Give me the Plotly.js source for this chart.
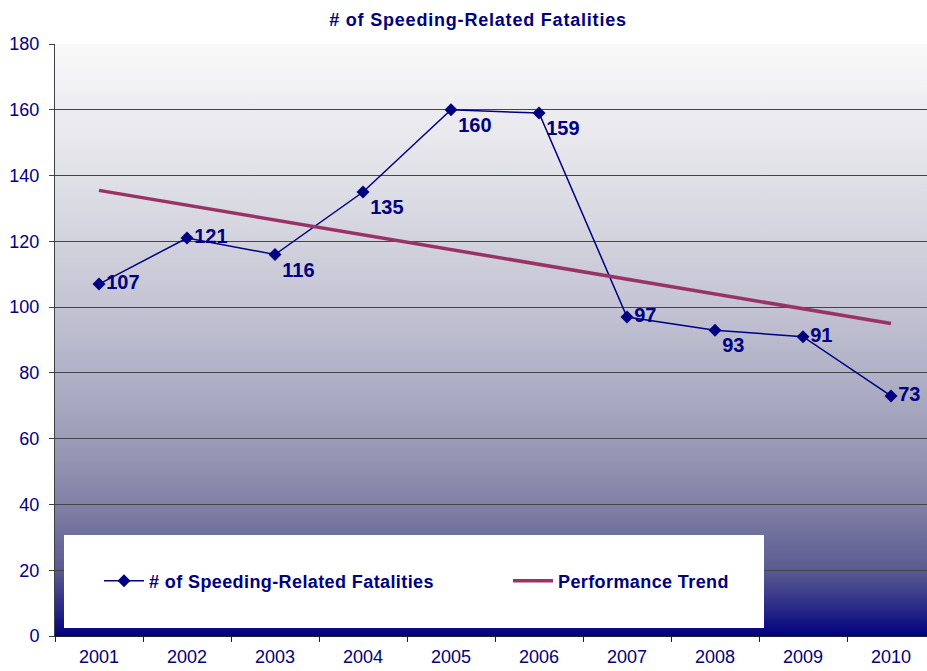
<!DOCTYPE html>
<html>
<head>
<meta charset="utf-8">
<script src="https://cdn.plot.ly/plotly-3.0.1.min.js"></script>
<style>
html, body { margin: 0; padding: 0; overflow: hidden; background: #ffffff; }
#chart { width: 935px; height: 671px; }
.gtitle { letter-spacing: 0.8px; }
.legendtext { letter-spacing: 0.4px; }
</style>
</head>
<body>
<div id="chart"></div>
<script>
// ---- data ----
const years = ["2001","2002","2003","2004","2005","2006","2007","2008","2009","2010"];
const fatalities = [107, 121, 116, 135, 160, 159, 97, 93, 91, 73];
const trendYears = ["2001", "2010"];
const trendValues = [135.5, 95.0];
const yTicks = [0, 20, 40, 60, 80, 100, 120, 140, 160, 180];
const labelPositions = ["middle right","middle right","bottom right","bottom right","bottom right",
                        "bottom right","middle right","bottom right","middle right","middle right"];

const navy = "#000080";
const font = "Liberation Sans, Arial, sans-serif";

// gradient background for plot area
const svg = "<svg xmlns='http://www.w3.org/2000/svg' width='100' height='100' preserveAspectRatio='none'>" +
  "<defs><linearGradient id='g' x1='0' y1='0' x2='0' y2='1'>" +
  "<stop offset='0' stop-color='#fafafa'/>" +
  "<stop offset='0.11' stop-color='#ededf1'/>" +
  "<stop offset='0.22' stop-color='#e1e1e8'/>" +
  "<stop offset='0.33' stop-color='#d3d3de'/>" +
  "<stop offset='0.44' stop-color='#c4c4d4'/>" +
  "<stop offset='0.55' stop-color='#b2b2c8'/>" +
  "<stop offset='0.67' stop-color='#9c9cb8'/>" +
  "<stop offset='0.78' stop-color='#8080a6'/>" +
  "<stop offset='0.89' stop-color='#5a5a90'/>" +
  "<stop offset='0.95' stop-color='#2c2c88'/>" +
  "<stop offset='1' stop-color='#000080'/>" +
  "</linearGradient></defs><rect width='100' height='100' fill='url(#g)'/></svg>";
const bgUri = "data:image/svg+xml;charset=utf-8," + encodeURIComponent(svg);

const traces = [
  {
    type: "scatter",
    mode: "lines+markers+text",
    name: "# of Speeding-Related Fatalities",
    x: years,
    y: fatalities,
    text: fatalities.map(String),
    textposition: labelPositions,
    textfont: { family: font, size: 20, color: navy, weight: "bold" },
    line: { color: navy, width: 1.5 },
    marker: { symbol: "diamond", size: 10, color: navy },
    cliponaxis: false,
    hoverinfo: "x+y"
  },
  {
    type: "scatter",
    mode: "lines",
    name: "Performance Trend",
    x: trendYears,
    y: trendValues,
    line: { color: "#993366", width: 3.5 },
    hoverinfo: "skip"
  }
];

const layout = {
  width: 935,
  height: 671,
  margin: { l: 55, r: 0, t: 44, b: 35 },
  paper_bgcolor: "#ffffff",
  plot_bgcolor: "rgba(0,0,0,0)",
  font: { family: font, color: navy },
  title: {
    text: "# of Speeding-Related Fatalities",
    font: { family: font, size: 18, color: navy, weight: "bold" },
    xref: "container", x: 478 / 935, xanchor: "center",
    yref: "container", y: 1 - 20 / 671, yanchor: "middle"
  },
  xaxis: {
    type: "category",
    categoryorder: "array",
    categoryarray: years,
    range: [-0.5, 9.5],
    showgrid: false,
    showline: true,
    linecolor: "#202020",
    linewidth: 1,
    ticks: "outside",
    tickson: "boundaries",
    ticklen: 5,
    tickcolor: "#202020",
    tickfont: { family: font, size: 18, color: navy },
    ticklabelstandoff: 4,
    fixedrange: true
  },
  yaxis: {
    range: [0, 180],
    tickvals: yTicks,
    showgrid: true,
    gridcolor: "#454545",
    gridwidth: 1,
    zeroline: false,
    showline: true,
    linecolor: "#404040",
    linewidth: 1,
    ticks: "outside",
    ticklen: 5,
    tickcolor: "#404040",
    tickfont: { family: font, size: 18, color: navy },
    ticklabelstandoff: 6,
    fixedrange: true
  },
  images: [{
    source: bgUri,
    xref: "paper", yref: "paper",
    x: 0, y: 1, sizex: 1, sizey: 1,
    xanchor: "left", yanchor: "top",
    sizing: "stretch",
    layer: "below"
  }],
  shapes: [{
    type: "rect",
    xref: "paper", yref: "paper",
    x0: 9 / 880, x1: 709 / 880,
    y0: 8 / 592, y1: 101 / 592,
    fillcolor: "#ffffff",
    line: { width: 0 },
    layer: "above"
  }],
  showlegend: true,
  legend: {
    orientation: "h",
    x: 44 / 880, xanchor: "left",
    y: 55 / 592, yanchor: "middle",
    bgcolor: "rgba(0,0,0,0)",
    font: { family: font, size: 18, color: navy, weight: "bold" },
    entrywidth: 354,
    entrywidthmode: "pixels",
    itemwidth: 40
  }
};

Plotly.newPlot("chart", traces, layout, { displayModeBar: false, staticPlot: true });
</script>
</body>
</html>
